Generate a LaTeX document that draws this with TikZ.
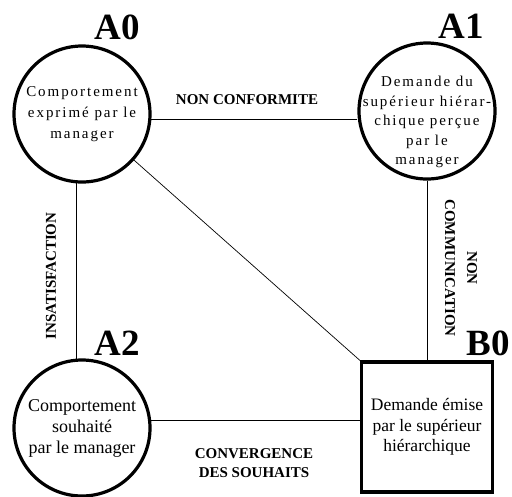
\documentclass[tikz,border=0pt]{standalone}
\usepackage{fontspec}
\setmainfont{Liberation Serif}
\newfontfamily\espace[LetterSpace=13]{Liberation Serif}

\begin{document}
\begin{tikzpicture}[x=1pt,y=-1pt,
        etat/.style={draw,circle,line width=3.2pt,minimum size=136pt,inner sep=0pt,align=center},
        boite/.style={draw,rectangle,line width=3.2pt,minimum width=131pt,minimum height=130pt,align=center,font=\fontsize{17.5}{20.5}\selectfont},
        repere/.style={font=\fontsize{37}{37}\selectfont\bfseries},
        relation/.style={align=center,font=\fontsize{15}{19}\selectfont\bfseries},
        lien/.style={line width=0.7pt}]
        \useasboundingbox (0,0) rectangle (512,496);
        \node[etat,font=\espace\fontsize{15}{21}\selectfont] (A0) at (82,114) {Comportement\\exprimé par le\\manager};
        \node[etat] (A1) at (427,111) {};
        \node[align=center,font=\espace\fontsize{15}{19.5}\selectfont] (A1texte) at (427,122) {Demande du\\supérieur hiérar-\\chique perçue\\par le\\manager};
        \node[etat,font=\fontsize{18}{21}\selectfont] (A2) at (82,428) {Comportement\\souhaité\\par le manager};
        \node[boite] (B0) at (427,427) {Demande émise\\par le supérieur\\hiérarchique};
        \node[repere] (nA0) at (117,27) {A0};
        \node[repere] (nA1) at (461,26) {A1};
        \node[repere] (nA2) at (117,343) {A2};
        \node[repere] (nB0) at (488,343) {B0};
        \draw[lien] (A0.356) -- (A0.356 -| A1.west);
        \draw[lien] (A0.265) -- (A2.95);
        \draw[lien] (A1.south) -- (B0.north);
        \draw[lien] (A2.6) -- (A2.6 -| B0.west);
        \draw[lien] (A0) -- (B0.north west);
        \node[relation] (nonconf) at (247,100) {NON CONFORMITE};
        \node[relation,rotate=90] (insat) at (51,276) {INSATISFACTION};
        \node[relation,rotate=-90,font=\fontsize{15}{22}\selectfont\bfseries] (noncom) at (461,268) {NON\\COMMUNICATION};
        \node[relation] (converg) at (254,463) {CONVERGENCE\\DES SOUHAITS};
    \end{tikzpicture}
\end{document}
